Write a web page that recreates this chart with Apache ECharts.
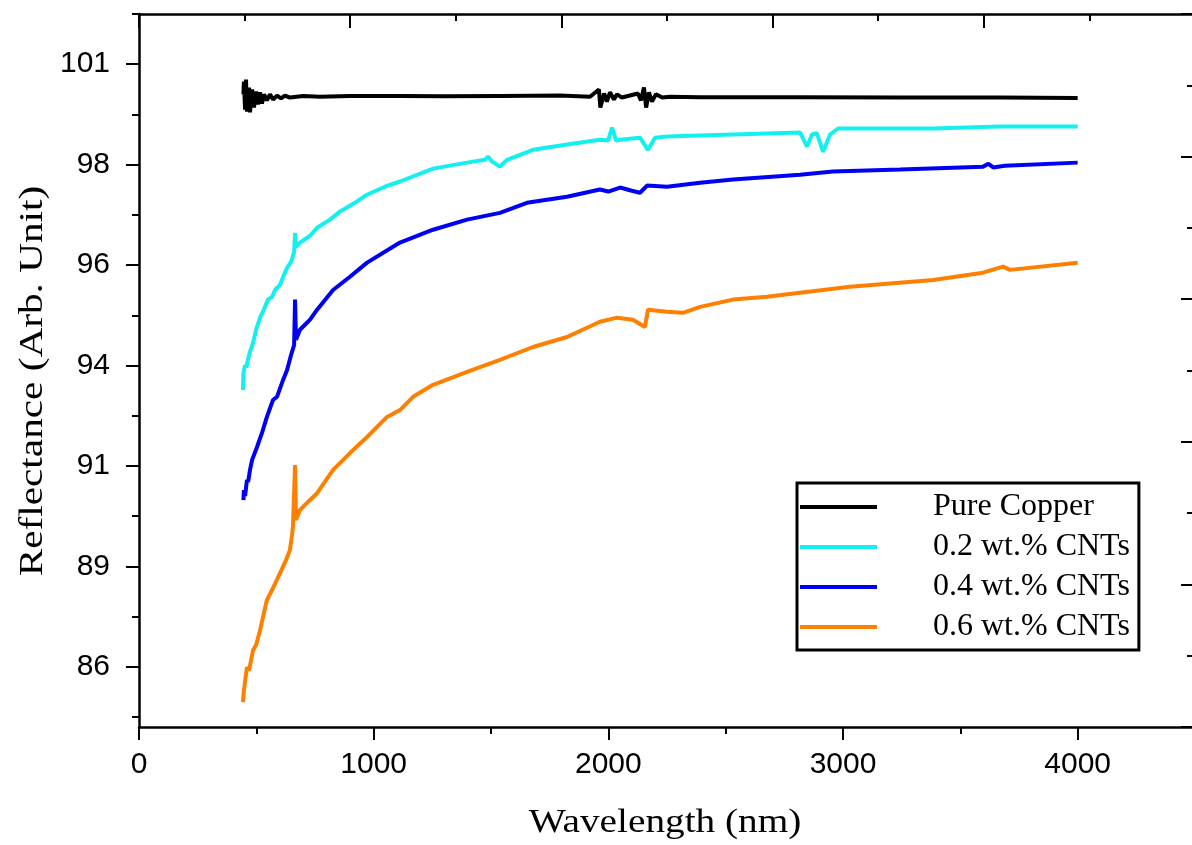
<!DOCTYPE html>
<html>
<head>
<meta charset="utf-8">
<script src="https://cdn.jsdelivr.net/npm/echarts@6/dist/echarts.min.js"></script>
<style>
html,body{margin:0;padding:0;background:#fff;}
#chart{width:1192px;height:845px;}
</style>
</head>
<body>
<div id="chart"></div>
<script>
// ---- data ----
const seriesNames = ['Pure Copper', '0.2 wt.% CNTs', '0.4 wt.% CNTs', '0.6 wt.% CNTs'];
const seriesColors = ['#000000', '#14F0F0', '#0000F5', '#FF8000'];

const pureCopper = [
  [445,100.25],[447,100.57],[452,99.87],[456,100.62],[460,99.82],[469,100.42],[473,99.80],[482,100.37],
  [490,99.92],[499,100.32],[507,100.00],[516,100.30],[524,100.02],[533,100.25],[545,100.10],[558,100.25],
  [571,100.12],[588,100.22],[605,100.15],[622,100.22],[643,100.17],[700,100.21],[771,100.19],[900,100.21],
  [1112,100.21],[1300,100.20],[1538,100.21],[1794,100.22],[1922,100.19],[1960,100.37],[1966,99.92],
  [1982,100.27],[1994,100.07],[2007,100.30],[2024,100.12],[2037,100.25],[2058,100.17],[2092,100.22],
  [2126,100.27],[2139,100.10],[2152,100.42],[2161,99.92],[2173,100.30],[2186,100.07],[2203,100.25],
  [2229,100.17],[2263,100.19],[2391,100.18],[2600,100.18],[2817,100.18],[3243,100.17],[3669,100.17],[4000,100.16]
];

const cnt02 = [
  [443,92.89],[445,93.30],[452,93.51],[458,93.45],[464,93.64],[473,93.84],[486,94.06],[499,94.39],
  [516,94.69],[528,94.84],[550,95.14],[567,95.21],[580,95.38],[601,95.51],[618,95.76],[631,95.93],
  [648,96.08],[661,96.33],[665,96.80],[669,96.45],[686,96.56],[729,96.73],[759,96.93],[814,97.13],
  [856,97.33],[920,97.55],[971,97.75],[1048,97.95],[1112,98.08],[1253,98.40],[1398,98.55],[1474,98.62],
  [1487,98.70],[1504,98.58],[1538,98.45],[1568,98.62],[1679,98.87],[1824,99.00],[1964,99.12],[1999,99.10],
  [2016,99.42],[2033,99.10],[2050,99.12],[2135,99.17],[2169,98.87],[2199,99.17],[2250,99.20],[2531,99.25],
  [2817,99.30],[2847,98.95],[2868,99.25],[2889,99.28],[2915,98.82],[2945,99.25],[2979,99.40],[3384,99.40],
  [3669,99.45],[4000,99.45]
];

const cnt04 = [
  [445,90.15],[447,90.40],[452,90.25],[460,90.65],[465,90.60],[473,90.90],[482,91.15],[503,91.47],
  [524,91.82],[545,92.22],[571,92.64],[588,92.72],[614,93.14],[631,93.39],[648,93.76],[661,94.01],
  [665,95.14],[669,94.14],[686,94.39],[729,94.64],[759,94.89],[827,95.38],[899,95.71],[972,96.06],
  [1112,96.56],[1253,96.88],[1398,97.13],[1538,97.30],[1653,97.55],[1824,97.70],[1964,97.88],[2000,97.83],
  [2050,97.93],[2100,97.85],[2135,97.80],[2165,97.98],[2250,97.95],[2391,98.05],[2531,98.13],[2817,98.25],
  [2957,98.33],[3243,98.38],[3597,98.45],[3620,98.52],[3640,98.43],[3690,98.47],[4000,98.55]
];

const cnt06 = [
  [443,85.12],[447,85.41],[460,85.99],[469,85.91],[486,86.41],[499,86.54],[516,86.91],[528,87.23],
  [545,87.66],[567,87.91],[601,88.33],[626,88.65],[643,88.90],[652,89.28],[656,89.48],[665,91.02],
  [669,89.65],[686,89.90],[707,90.03],[729,90.15],[759,90.32],[827,90.90],[899,91.32],[972,91.72],
  [1057,92.22],[1112,92.39],[1168,92.72],[1253,93.02],[1398,93.34],[1538,93.64],[1679,93.96],[1824,94.21],
  [1964,94.59],[2037,94.69],[2105,94.64],[2156,94.46],[2169,94.89],[2250,94.84],[2318,94.81],[2391,94.96],
  [2531,95.14],[2676,95.21],[2817,95.31],[3030,95.46],[3384,95.63],[3597,95.81],[3682,95.96],[3712,95.88],
  [4000,96.06]
];

const xTickValues = [0, 1000, 2000, 3000, 4000];
const xMinorValues = [500, 1500, 2500, 3500, 4500];
const yTickValues = [86, 88.5, 91, 93.5, 96, 98.5, 101];
const yTickLabels = ['86', '89', '91', '94', '96', '98', '101'];
const yMinorValues = [84.75, 87.25, 89.75, 92.25, 94.75, 97.25, 99.75, 102.25];
const xTitle = 'Wavelength (nm)';
const yTitle = 'Reflectance (Arb. Unit)';

// ---- chart ----
const chart = echarts.init(document.getElementById('chart'), null, {renderer: 'canvas'});
const sans = 'Liberation Sans, Arial, sans-serif';
const serif = 'Liberation Serif, Times New Roman, serif';
const axisLineStyle = {color: '#000', width: 2.5};
const tickLineStyle = {color: '#000', width: 2};

const option = {
  animation: false,
  backgroundColor: '#fff',
  grid: {left: 139, width: 1056, top: 14, bottom: 118, containLabel: false, outerBoundsMode: 'none'},
  xAxis: [
    {
      type: 'value', position: 'bottom', min: 0, max: 4500,
      axisLine: {show: true, onZero: false, lineStyle: axisLineStyle},
      axisTick: {show: true, customValues: xTickValues, length: 13, lineStyle: tickLineStyle},
      axisLabel: {customValues: xTickValues, fontSize: 30, fontFamily: sans, color: '#000', margin: 23,
        formatter: function (v) { return String(v); }},
      splitLine: {show: false}
    },
    {
      type: 'value', position: 'bottom', min: 0, max: 4500,
      axisLine: {show: false},
      axisTick: {show: true, customValues: xMinorValues, length: 7, lineStyle: tickLineStyle},
      axisLabel: {show: false},
      splitLine: {show: false}
    },
    {
      type: 'value', position: 'top', min: 0, max: 5, interval: 1,
      axisLine: {show: true, onZero: false, lineStyle: axisLineStyle},
      axisTick: {show: true, inside: true, length: 14, lineStyle: tickLineStyle},
      minorTick: {show: true, splitNumber: 2, length: 7, lineStyle: tickLineStyle},
      axisLabel: {show: false},
      splitLine: {show: false}
    }
  ],
  yAxis: [
    {
      type: 'value', position: 'left', min: 84.5, max: 102.25,
      axisLine: {show: true, onZero: false, lineStyle: axisLineStyle},
      axisTick: {show: true, customValues: yTickValues, length: 13, lineStyle: tickLineStyle},
      axisLabel: {
        customValues: yTickValues, fontSize: 30, fontFamily: sans, color: '#000', margin: 29,
        formatter: function (v) {
          const i = yTickValues.findIndex(t => Math.abs(t - v) < 1e-6);
          return i >= 0 ? yTickLabels[i] : '';
        }
      },
      splitLine: {show: false}
    },
    {
      type: 'value', position: 'left', min: 84.5, max: 102.25,
      axisLine: {show: false},
      axisTick: {show: true, customValues: yMinorValues, length: 7, lineStyle: tickLineStyle},
      axisLabel: {show: false},
      splitLine: {show: false}
    },
    {
      type: 'value', position: 'right', min: 0, max: 5, interval: 1,
      axisLine: {show: true, onZero: false, lineStyle: axisLineStyle},
      axisTick: {show: true, inside: true, length: 14, lineStyle: tickLineStyle},
      minorTick: {show: true, splitNumber: 2, length: 8, lineStyle: tickLineStyle},
      axisLabel: {show: false},
      splitLine: {show: false}
    }
  ],
  legend: {
    orient: 'vertical', left: 797, top: 483,
    padding: [8, 9, 7, 3],
    borderColor: '#000', borderWidth: 3, backgroundColor: '#fff',
    itemWidth: 77, itemHeight: 4, itemGap: 8, icon: 'rect',
    selectedMode: false,
    textStyle: {fontFamily: serif, fontSize: 32, color: '#000', padding: [0, 0, 0, 51]},
    data: seriesNames
  },
  graphic: [
    {
      type: 'text', x: 665, y: 823, scaleX: 1.19,
      style: {text: xTitle, font: '33px ' + serif, fill: '#000', align: 'center', verticalAlign: 'middle'}
    },
    {
      type: 'text', x: 33, y: 381, rotation: Math.PI / 2, scaleX: 1.25,
      style: {text: yTitle, font: '33px ' + serif, fill: '#000', align: 'center', verticalAlign: 'middle'}
    }
  ],
  series: [pureCopper, cnt02, cnt04, cnt06].map((d, i) => ({
    name: seriesNames[i], type: 'line', data: d,
    xAxisIndex: 0, yAxisIndex: 0,
    showSymbol: false, symbol: 'none',
    lineStyle: {color: seriesColors[i], width: 4},
    itemStyle: {color: seriesColors[i]},
    emphasis: {disabled: true},
    z: 2 + i
  }))
};
chart.setOption(option);
</script>
</body>
</html>
